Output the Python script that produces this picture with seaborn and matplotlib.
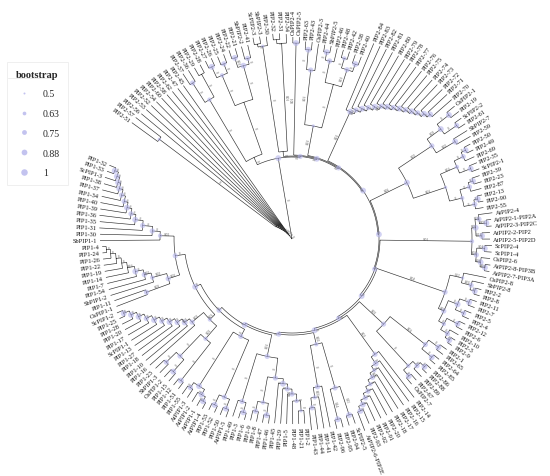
import numpy as np
import pandas as pd
import seaborn as sns
import matplotlib.pyplot as plt
from matplotlib.lines import Line2D

# Tree clades in clockwise order. Number after ':' = node radius from the root,
# internal node label = "bootstrap|branch value".
clade_a = "((((((((((PIP2-51:1.98,PIP2-57:1.98)0.63|0:1.66,PIP2-56:1.96)|0:0.2,PIP2-53:1.95)|0:0.18,PIP2-52:1.94)|0:0.16,PIP2-54:1.93)|0:0.14,PIP2-60:1.92)|0:0.12,PIP2-58:1.91)|0:0.1,PIP2-62:1.9)|0:0.08,PIP2-47:1.89)|0:0.06,PIP2-45:1.88)|0:0.04"
clade_b = "(((PIP2-37:1.98,PIP2-36:1.98)0.88|0:1.85,(PIP2-29:1.97,PIP2-28:1.97)|0:1.88)0.75|0:1.62,(((PIP2-27:1.98,PIP2-26:1.98)1|0:1.9,(PIP2-25:1.97,PIP2-24:1.97)0.88|0:1.88)0.75|0:1.78,((PIP2-22:1.99,PIP2-21:1.99)1|0.01:1.9,(SbPIP2-2:1.99,PIP2-41:1.99)0.88|0:1.86)1|0:1.8)|0:1.45)|0:0.9"
clade_c = "(((ScPIP2-3:2.05,SbPIP2-3:2.05)|0:1.98,PIP2-30:2.04)0.63|0:1.95,((PIP2-32:2.06,PIP2-31:2.06)|0:2.0,PIP2-34:2.05)|0.01:1.96)|0:0.88"
clade_d = "(OsPIP2-4:2.02,OsPIP2-5:2.02)1|0.01:1.96"
clade_e = "(((PIP2-63:1.98,PIP2-43:1.98)1|0:1.9,OsPIP2-3:1.97)0.88|0.01:1.7,(((PIP2-44:1.97,SbPIP2-5:1.97)1|0:1.9,PIP2-46:1.96)0.88|0:1.82,((PIP2-48:1.96,PIP2-42:1.96)0.75|0:1.88,(PIP2-38:1.95,PIP2-40:1.95)1|0:1.86)0.88|0.01:1.78)|0:1.6)0.63|0.01:1.15"
clade_f = "(PIP2-84:2.12,(PIP2-83:2.12,(PIP2-82:2.12,(PIP2-81:2.12,(PIP2-80:2.12,(PIP2-79:2.12,(PIP2-78:2.12,(PIP2-77:2.12,(PIP2-76:2.12,(PIP2-75:2.12,(PIP2-74:2.12,(PIP2-73:2.12,(PIP2-72:2.12,(PIP2-71:2.12,PIP2-70:2.12)1|0:1.86)1|0:1.82)0.88|0:1.78)1|0:1.75)0.88|0:1.72)1|0:1.69)0.88|0:1.66)1|0:1.63)0.88|0.01:1.6)1|0:1.56)0.88|0:1.52)1|0:1.48)0.88|0.01:1.44)1|0.01:1.4"
clade_g = "((((OsPIP2-1:2.1,PIP2-19:2.1)1|0:2.0,(ScPIP2-2:2.08,PIP2-61:2.08)0.88|0:2.0)1|0.03:1.85,(SbPIP2-7:2.06,PIP2-59:2.06)1|0.02:1.9)0.88|0.02:1.68,((((PIP2-50:2.02,PIP2-49:2.02)1|0:1.95,PIP2-69:2.0)0.88|0:1.9,(PIP2-35:2.0,ScPIP2-1:2.0)1|0:1.92)0.75|0.01:1.8,(((PIP2-39:1.98,PIP2-23:1.98)1|0:1.9,PIP2-87:1.96)0.88|0:1.85,((PIP2-13:1.95,PIP2-90:1.95)1|0:1.9,PIP2-55:1.94)0.88|0:1.86)0.75|0:1.75)0.63|0.01:1.62)1|0.06:1.28"
clade_h = "(((AtPIP2-4:2.02,(AtPIP2-1-PIP2A:2.0,AtPIP2-3-PIP2C:2.0)1|0.02:1.95)0.88|0.01:1.88,(AtPIP2-2-PIP2:1.98,AtPIP2-5-PIP2D:1.98)1|0.11:1.9)1|0.01:1.84,((ScPIP2-4:2.0,ScPIP1-4:2.0)1|0.04:1.93,(OsPIP2-6:1.99,(AtPIP2-8-PIP3B:2.0,AtPIP2-7-PIP3A:2.0)1|0.04:1.95)1|0.02:1.9)0.88|0.02:1.85)0.75|0.01:1.8"
clade_i = "((OsPIP2-8:1.98,(SbPIP2-8:1.97,(PIP2-2:1.96,PIP2-8:1.96)1|0:1.9)0.88|0.02:1.85)0.63|0.12:1.75,(((PIP2-11:1.95,PIP2-7:1.95)1|0:1.88,(PIP2-5:1.94,PIP2-4:1.94)0.88|0:1.87)1|0:1.78,((PIP2-12:1.93,PIP2-6:1.93)1|0:1.86,(PIP2-10:1.92,(PIP2-3:1.92,PIP2-9:1.92)1|0:1.87)0.88|0:1.82)0.75|0:1.74)0.88|0.01:1.68)0.88|0.04:1.62"
clade_j = "(((PIP2-1:1.9,PIP2-65:1.9)1|0:1.82,(PIP2-64:1.9,PIP2-85:1.9)1|0:1.83)0.88|0.01:1.7,(((PIP2-86:1.9,PIP2-88:1.9)1|0:1.84,PIP2-89:1.89)0.88|0:1.78,(PIP2-67:1.88,OsPIP2-7:1.88)1|0:1.8)0.75|0:1.72)0.88|0.02:1.25"
clade_k = "(PIP2-14:2.0,(PIP2-15:2.0,(PIP2-16:2.0,(PIP2-17:2.0,(PIP2-18:2.0,(PIP2-20:2.0,(PIP2-91:2.0,(PIP2-92:2.0,(PIP2-93:2.0,AtPIP2-6-PIP2E:2.05)1|0:1.85)1|0:1.8)0.88|0:1.75)0.88|0:1.7)0.75|0:1.65)0.88|0.01:1.6)0.75|0:1.55)1|0:1.5)0.88|0.01:1.42"
clade_l = "(((ScPIP2-5:1.95,PIP2-94:1.95)1|0.15:1.85,(PIP2-95:1.95,PIP2-96:1.95)1|0.14:1.86)0.88|0:1.55,(PIP1-42:1.92,(PIP1-41:1.92,(PIP1-44:1.92,PIP1-43:1.92)0.88|0:1.7)0.75|0.02:1.6)0.88|0:1.5)0.75|0.02:1.08"
clade_m = "(((((((PIP1-2:1.85,PIP1-21:1.85)0.63|0:1.72,PIP1-48:1.85)0.75|0:1.62,PIP1-5:1.85)0.88|0.01:1.55,PIP1-29:1.85)0.88|0:1.5,PIP1-45:1.85)1|0:1.45,((PIP1-46:1.86,PIP1-47:1.86)1|0:1.78,(PIP1-8:1.86,PIP1-9:1.86)0.88|0:1.76)0.75|0:1.66)0.88|0:1.4,((PIP1-6:1.87,PIP1-3:1.87)1|0:1.8,PIP1-49:1.87)0.88|0:1.7)0.88|0.01:1.2"
clade_n = "(((AtPIP1-5:1.9,PIP1-50:1.9)1|0:1.82,(PIP1-52:1.9,PIP1-53:1.9)1|0:1.83)0.88|0:1.72,(((AtPIP1-4:1.92,AtPIP1-1:1.92)1|0:1.85,AtPIP1-2:1.91)1|0:1.8,(AtPIP1-3:1.9,PIP1-55:1.9)0.88|0:1.8)1|0:1.74)0.88|0:1.1"
clade_o = "(((PIP1-51:1.88,PIP1-12:1.88)1|0:1.8,((PIP1-15:1.88,OsPIP1-2:1.88)1|0:1.78,(SbPIP1-3:1.88,PIP1-23:1.88)0.88|0:1.76)0.88|0:1.62)0.75|0.02:1.32,(PIP1-16:1.9,(PIP1-10:1.9,(PIP1-18:1.9,(PIP1-27:1.9,(PIP1-13:1.9,(ScPIP1-1:1.9,(PIP1-17:1.9,(PIP1-20:1.9,(PIP1-28:1.9,(PIP1-25:1.9,ScPIP1-2:1.9)1|0:1.84)1|0:1.78)1|0:1.72)0.88|0:1.66)1|0:1.6)0.88|0:1.54)1|0:1.48)0.88|0:1.42)1|0.01:1.36)0.88|0.02:1.3)0.75|0.01:1.15"
clade_p = "((OsPIP1-1:1.88,PIP1-11:1.88)0.88|0.03:1.55,(SbPIP1-2:1.9,(PIP1-54:1.9,(PIP1-7:1.9,(PIP1-14:1.9,(PIP1-19:1.9,(PIP1-22:1.9,(PIP1-26:1.9,(PIP1-24:1.9,PIP1-4:1.9)|0:1.86)|0:1.82)|0:1.77)|0:1.72)|0.01:1.67)1|0:1.6)0.88|0.02:1.52)0.75|0.02:1.45)0.88|0.02:1.3"
clade_q = "(SbPIP1-1:1.92,(PIP1-30:1.92,(PIP1-31:1.93,(PIP1-35:1.93,(PIP1-36:1.94,(PIP1-39:1.94,(PIP1-40:1.95,(PIP1-34:1.95,(PIP1-37:1.96,(PIP1-38:1.96,(ScPIP1-3:1.97,(PIP1-33:1.97,PIP1-32:1.97)1|0:1.9)1|0:1.86)1|0:1.83)1|0:1.8)0.88|0:1.76)0.88|0:1.72)1|0:1.68)0.88|0:1.63)1|0:1.58)0.88|0:1.5)0.88|0:1.4)0.75|0.02:1.32"

# backbone (ladder) joining clades b..q
backbone_r = [0.82, 0.83, 0.84, 0.85, 0.86, 0.87, 0.88, 0.9, 0.92, 0.94, 0.96, 0.98, 1.02, 1.08, 1.18]
backbone_boot = [1, 0.88, 1, 0.88, 1, 1, 0.88, 1, 0.88, 1, 0.88, 1, 0.88, 1, 0.88]

legend_values = [0.5, 0.63, 0.75, 0.88, 1]

clades = [clade_b, clade_c, clade_d, clade_e, clade_f, clade_g, clade_h, clade_i,
          clade_j, clade_k, clade_l, clade_m, clade_n, clade_o, clade_p, clade_q]
nested = "(%s,%s)%s|0:%s" % (clades[14], clades[15], backbone_boot[14], backbone_r[14])
for k in range(13, -1, -1):
    nested = "(%s,%s)%s|0:%s" % (clades[k], nested, backbone_boot[k], backbone_r[k])
newick = "(%s,%s):0;" % (clade_a, nested)


def parse(s):
    pos = 0

    def node():
        nonlocal pos
        n = {'children': [], 'name': '', 'r': 0.0}
        if s[pos] == '(':
            pos += 1
            n['children'].append(node())
            while s[pos] == ',':
                pos += 1
                n['children'].append(node())
            pos += 1
        start = pos
        while s[pos] not in ':,();':
            pos += 1
        n['name'] = s[start:pos]
        if s[pos] == ':':
            pos += 1
            start = pos
            while s[pos] not in ',();':
                pos += 1
            n['r'] = float(s[start:pos])
        return n
    return node()


root = parse(newick)

leaves = []
def collect(n):
    if not n['children']:
        leaves.append(n)
    for c in n['children']:
        collect(c)
collect(root)

start_deg, gap_deg = 144.0, 14.0
step = (360.0 - gap_deg) / (len(leaves) - 1)
for i, lf in enumerate(leaves):
    lf['t'] = np.radians(start_deg - i * step)

def set_theta(n):
    if n['children']:
        for c in n['children']:
            set_theta(c)
        n['t'] = np.mean([c['t'] for c in n['children']])
set_theta(root)

# branch geometry + node tables
line_t, line_r = [], []
nodes = []
def walk(n, pr):
    if pr is not None:
        line_t.extend([n['t'], n['t'], np.nan])
        line_r.extend([pr, n['r'], np.nan])
    if n['children']:
        ts = [c['t'] for c in n['children']]
        t0, t1 = min(ts), max(ts)
        npts = max(2, int(np.degrees(t1 - t0) * 3))
        arc = np.linspace(t0, t1, npts)
        line_t.extend(list(arc) + [np.nan])
        line_r.extend([n['r']] * npts + [np.nan])
        boot, txt = '', ''
        if '|' in n['name']:
            boot, txt = n['name'].split('|')
        nodes.append({'theta': n['t'], 'r': n['r'], 'rmid': (n['r'] + (pr or 0)) / 2,
                      'bootstrap': float(boot) if boot else np.nan, 'text': txt})
    for c in n['children']:
        walk(c, n['r'])
walk(root, None)
node_df = pd.DataFrame(nodes)

sns.set_theme(style='white')
plt.rcParams['font.family'] = ['Liberation Serif', 'DejaVu Serif']

fig = plt.figure(figsize=(5.5, 4.77), dpi=100)
ax = fig.add_axes([0.0764, -0.0273, 0.9091, 1.0482], projection='polar')

ax.plot(line_t, line_r, color='#2e2e2e', lw=0.45, solid_capstyle='butt')

pt_color = '#b4b4ec'
pt_alpha = 0.6
size_range = (1.5, 18)
boot_df = node_df.dropna(subset=['bootstrap'])
sns.scatterplot(data=boot_df, x='theta', y='r', size='bootstrap', sizes=size_range,
                size_norm=(0.5, 1), color=pt_color, alpha=pt_alpha, linewidth=0,
                legend=False, ax=ax, zorder=3)


def rot_of(t):
    a = np.degrees(t) % 360
    if 90 < a < 270:
        return a - 180, 'right'
    return (a - 360 if a > 270 else a), 'left'


for lf in leaves:
    rot, ha = rot_of(lf['t'])
    ax.text(lf['t'], lf['r'] + 0.03, lf['name'], rotation=rot, ha=ha, va='center',
            rotation_mode='anchor', fontsize=4.6, color='#111111')

for _, row in node_df.iterrows():
    if row['text'] == '':
        continue
    rot, _ = rot_of(row['theta'])
    ax.text(row['theta'], row['rmid'], row['text'], rotation=rot, ha='center', va='bottom',
            rotation_mode='anchor', fontsize=2.6, color='#555555')

ax.set_ylim(0, 2.5)
ax.axis('off')

# bootstrap legend
handles = []
for v in legend_values:
    s = 2 + (v - 0.5) / 0.5 * (22 - 2)
    handles.append(Line2D([0], [0], marker='o', linestyle='', color=pt_color, alpha=0.8,
                          markersize=np.sqrt(s), markeredgewidth=0))
leg = fig.legend(handles, [str(v) for v in legend_values], title='bootstrap',
                 loc='upper left', bbox_to_anchor=(0.009, 0.872), frameon=True,
                 fontsize=7, labelspacing=1.1, handletextpad=0.9, borderpad=0.5,
                 title_fontproperties={'weight': 'bold', 'size': 7.5})
leg.get_frame().set_edgecolor('#e8e8e8')
leg.get_frame().set_linewidth(0.6)
leg.get_frame().set_boxstyle('square')
fig.add_artist(Line2D([8 / 550, 52 / 550], [1 - 79 / 477, 1 - 79 / 477],
                      transform=fig.transFigure, color='#9a9a9a', lw=0.6))

fig.savefig('out.png', dpi=100)
